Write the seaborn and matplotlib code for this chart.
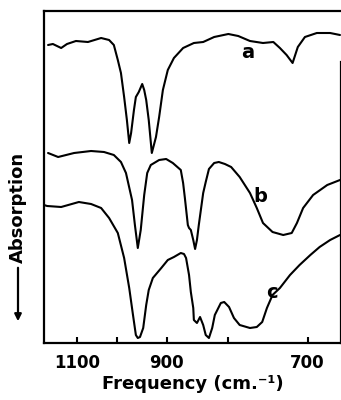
import numpy as np
import pandas as pd
import matplotlib
matplotlib.use("Agg")
import matplotlib.pyplot as plt
import seaborn as sns

# ---- data (wavenumber in cm^-1, signal in arbitrary units) ----
a_nu = [1185, 1170, 1145, 1128, 1103, 1071, 1038, 1019, 1008, 999, 992, 985, 979, 974,
        970, 964, 960, 954, 947, 943, 939, 934, 928, 920, 914, 907, 898, 887, 871,
        853, 838, 821, 800, 786, 770, 753, 740, 732, 724, 717, 711, 703, 690, 676, 666]
a_val = [298, 299, 295, 299, 302, 301, 305, 303, 298, 283, 270, 246, 223, 200,
         210, 233, 246, 251, 259, 253, 243, 223, 190, 206, 226, 253, 273, 285, 295,
         300, 301, 306, 309, 307, 302, 300, 301, 295, 288, 280, 296, 306, 310, 310, 308]

b_nu = [1185, 1154, 1108, 1063, 1031, 1008, 992, 981, 968, 962, 956, 950, 943, 937,
        930, 914, 901, 889, 875, 871, 868, 863, 861, 858, 854, 851, 848, 845, 838,
        834, 829, 821, 814, 805, 796, 784, 770, 761, 753, 741, 728, 718, 712, 705,
        694, 679, 666]
b_val = [190, 186, 190, 192, 191, 188, 181, 170, 143, 118, 95, 113, 148, 170,
         178, 183, 184, 180, 173, 160, 145, 118, 115, 113, 103, 94, 103, 118, 150,
         161, 174, 180, 181, 179, 176, 166, 150, 135, 120, 111, 108, 110, 120, 135,
         148, 158, 163]

c_nu = [1198, 1188, 1145, 1095, 1063, 1038, 1019, 999, 985, 974, 966, 960, 956, 951.5,
        945, 939, 934, 926, 910, 898, 887, 875, 869.5, 866, 861, 858, 854, 853, 848,
        843, 838, 834, 829, 824, 820, 811, 806, 799, 792, 784, 770, 761, 754, 748,
        741, 732, 720, 709, 697, 687, 676, 666]
c_val = [138, 137, 136, 141, 139, 135, 125, 110, 85, 55, 28, 8, 5, 6,
         15, 38, 53, 65, 75, 83, 86, 90, 89, 85, 68, 51, 35, 23, 20,
         26, 18, 8, 5, 15, 28, 40, 41, 36, 25, 18, 15, 16, 21, 35,
         48, 55, 68, 78, 88, 96, 103, 108]

curve_labels = ["a", "b", "c"]
label_nu = [773, 757, 742]
label_val = [291, 147, 51]

tick_nu = [1100, 1000, 900, 800, 700]
tick_text = ["1100", "", "900", "", "700"]

# ---- build long table (x plotted linear in wavelength, as on the spectrometer chart) ----
frames = []
for name, nu, val in zip(curve_labels, [a_nu, b_nu, c_nu], [a_val, b_val, c_val]):
    nu = np.asarray(nu, dtype=float)
    frames.append(pd.DataFrame({"curve": name, "order": np.arange(len(nu)),
                                "x": 1e4 / nu, "y": np.asarray(val, dtype=float)}))
df = pd.concat(frames, ignore_index=True)

sns.set_style("white")
plt.rcParams["font.family"] = ["DejaVu Sans"]
plt.rcParams["text.color"] = "black"
plt.rcParams["axes.labelcolor"] = "black"
plt.rcParams["xtick.color"] = "black"
plt.rcParams["ytick.color"] = "black"

fig = plt.figure(figsize=(3.41, 4.0), dpi=100)
ax = fig.add_axes([44 / 341, 1 - 343 / 400, 1 - 44 / 341, (343 - 11) / 400])

sns.lineplot(data=df, x="x", y="y", units="curve", estimator=None, sort=False,
             color="black", linewidth=1.5, ax=ax, legend=False)
for ln in ax.get_lines():
    ln.set_solid_joinstyle("round")
    ln.set_solid_capstyle("round")

ax.set_xlim(1e4 / 1198, 1e4 / 665)
ax.set_ylim(0, 332)

ax.set_xticks(1e4 / np.asarray(tick_nu, dtype=float))
ax.set_xticklabels(tick_text, fontsize=12, fontweight="bold", color="black")
ax.tick_params(axis="x", direction="in", length=4, width=1.5, bottom=True, pad=8,
               colors="black")
ax.set_yticks([])
ax.set_xlabel("Frequency (cm.⁻¹)", fontsize=13, fontweight="bold", labelpad=2,
              color="black")
ax.set_ylabel("")

for side in ["left", "bottom", "top", "right"]:
    ax.spines[side].set_visible(True)
    ax.spines[side].set_color("black")
    ax.spines[side].set_linewidth(1.6)
ax.spines["right"].set_bounds(0, 281)

for lab, nu, val in zip(curve_labels, label_nu, label_val):
    ax.text(1e4 / nu, val, lab, fontsize=14, fontweight="bold", ha="center",
            va="center", color="black")

fig.text(18 / 341, 1 - 207 / 400, "Absorption", rotation=90, fontsize=13,
         fontweight="bold", ha="center", va="center", color="black")
fig.add_artist(matplotlib.patches.FancyArrowPatch(
    (18 / 341, 1 - 265 / 400), (18 / 341, 1 - 324 / 400),
    transform=fig.transFigure, arrowstyle="-|>", mutation_scale=10,
    linewidth=1.6, color="black"))

fig.savefig("out.png", dpi=100)
